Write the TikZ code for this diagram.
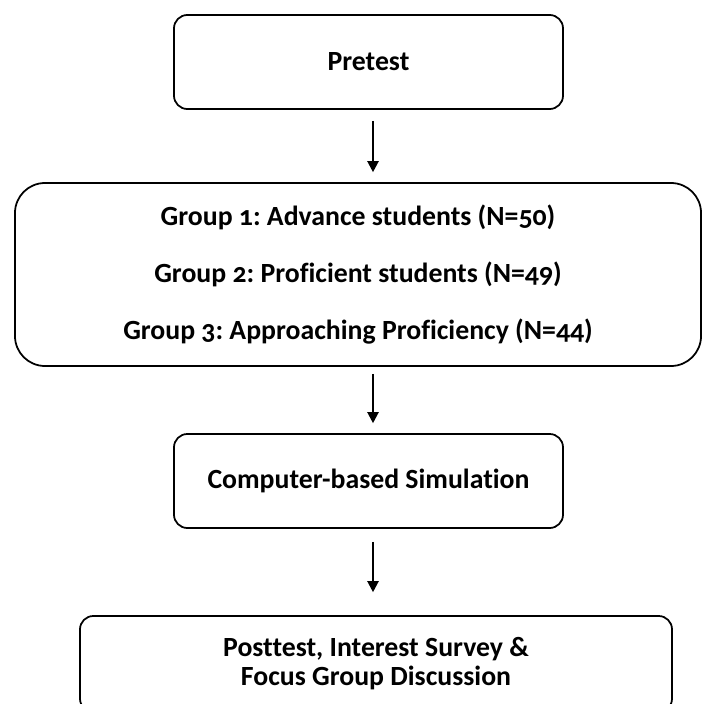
\documentclass[tikz,border=0pt]{standalone}
\usepackage{fontspec}
\setmainfont{Carlito}[Numbers=OldStyle,Ligatures=NoCommon]
\usepackage{tikz}
\usetikzlibrary{arrows.meta,positioning,calc}
\frenchspacing
\tikzset{
  >={Triangle[length=3.3mm,width=3.4mm]},
  % rutor
  stage/.style={draw=black,line width=1.5pt,rounded corners=4mm,align=center,
                inner sep=0pt,font=\fontsize{23.7}{24.8}\selectfont\bfseries},
  grpbox/.style={stage,rounded corners=9mm},
  % pilar
  flow/.style={->,draw=black,line width=1.2pt},
}
\begin{document}
\begin{tikzpicture}[x=0.03cm,y=-0.03cm]
  \clip (0,0) rectangle (703,704);
  \node[stage,minimum width=11.67cm,minimum height=2.82cm] (pre) at (368.5,62) {Pretest};
  \node[grpbox,minimum width=20.58cm,minimum height=5.49cm] (grp) at (358,274.5)
    {Group 1: Advance students (N=50)\\[24.2pt]
     Group 2: Proficient students (N=49)\\[24.2pt]
     Group 3: Approaching Proficiency (N=44)};
  \node[stage,minimum width=11.67cm,minimum height=2.82cm] (sim) at (368.5,481) {Computer-based Simulation};
  \node[stage,minimum width=17.76cm,minimum height=2.88cm] (post) at (376,664)
    {Posttest, Interest Survey \&\\Focus Group Discussion};
  \draw[flow,shorten <=0.33cm,shorten >=0.3cm] ([xshift=0.135cm]pre.south) -- ([xshift=0.135cm]pre.south |- grp.north);
  \draw[flow,shorten <=0.21cm,shorten >=0.3cm] ([xshift=0.135cm]sim.north |- grp.south) -- ([xshift=0.135cm]sim.north);
  \draw[flow,shorten <=0.39cm,shorten >=0.69cm] ([xshift=0.135cm]sim.south) -- ([xshift=0.135cm]sim.south |- post.north);
\end{tikzpicture}
\end{document}
